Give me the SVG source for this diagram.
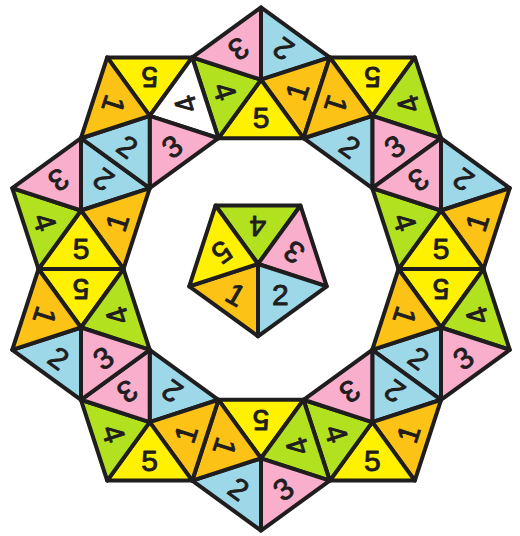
<svg xmlns="http://www.w3.org/2000/svg" width="520" height="536" viewBox="0 0 520 536">
<style>
polygon{stroke:#1f1d1e;stroke-width:4;stroke-linejoin:round}
.c1{fill:#fdc216}.c2{fill:#9dd8e8}.c3{fill:#f9aecb}.c4{fill:#b2e11f}.c5{fill:#fff100}.cw{fill:#ffffff}
text{font-family:"Liberation Sans",Arial,sans-serif;font-size:30px;fill:#1f1d1e;stroke:#1f1d1e;stroke-width:0.9;stroke-linejoin:round;text-anchor:middle;dominant-baseline:central}
</style>
<rect width="520" height="536" fill="#ffffff"/>

<g id="pent-top" transform="translate(261,79.7)">
<polygon class="c2" points="0,0 0,-72.3 68.76,-22.34"/>
<polygon class="c1" points="0,0 68.76,-22.34 42.5,58.49"/>
<polygon class="c5" points="0,0 42.5,58.49 -42.5,58.49"/>
<polygon class="c4" points="0,0 -42.5,58.49 -68.76,-22.34"/>
<polygon class="c3" points="0,0 -68.76,-22.34 0,-72.3"/>
<text transform="translate(22.3,-30.7) rotate(216)">2</text>
<text transform="translate(36.1,11.7) rotate(288)">1</text>
<text transform="translate(0,38)">5</text>
<text transform="translate(-36.1,11.7) rotate(72)">4</text>
<text transform="translate(-22.3,-30.7) rotate(144)">3</text>
</g>

<g id="pent-upper-right" transform="translate(372.3,115.9)">
<polygon class="c5" points="0,0 -42.5,-58.49 42.5,-58.49"/>
<polygon class="c4" points="0,0 42.5,-58.49 68.76,22.34"/>
<polygon class="c3" points="0,0 68.76,22.34 0,72.3"/>
<polygon class="c2" points="0,0 0,72.3 -68.76,22.34"/>
<polygon class="c1" points="0,0 -68.76,22.34 -42.5,-58.49"/>
<text transform="translate(0,-38) rotate(180)">5</text>
<text transform="translate(36.1,-11.7) rotate(252)">4</text>
<text transform="translate(22.3,30.7) rotate(324)">3</text>
<text transform="translate(-22.3,30.7) rotate(36)">2</text>
<text transform="translate(-36.1,-11.7) rotate(108)">1</text>
</g>

<g id="pent-right-upper" transform="translate(441,210.5)">
<polygon class="c2" points="0,0 0,-72.3 68.76,-22.34"/>
<polygon class="c1" points="0,0 68.76,-22.34 42.5,58.49"/>
<polygon class="c5" points="0,0 42.5,58.49 -42.5,58.49"/>
<polygon class="c4" points="0,0 -42.5,58.49 -68.76,-22.34"/>
<polygon class="c3" points="0,0 -68.76,-22.34 0,-72.3"/>
<text transform="translate(22.3,-30.7) rotate(216)">2</text>
<text transform="translate(36.1,11.7) rotate(288)">1</text>
<text transform="translate(0,38)">5</text>
<text transform="translate(-36.1,11.7) rotate(72)">4</text>
<text transform="translate(-22.3,-30.7) rotate(144)">3</text>
</g>

<g id="pent-right-lower" transform="translate(441,327.5)">
<polygon class="c5" points="0,0 -42.5,-58.49 42.5,-58.49"/>
<polygon class="c4" points="0,0 42.5,-58.49 68.76,22.34"/>
<polygon class="c3" points="0,0 68.76,22.34 0,72.3"/>
<polygon class="c2" points="0,0 0,72.3 -68.76,22.34"/>
<polygon class="c1" points="0,0 -68.76,22.34 -42.5,-58.49"/>
<text transform="translate(0,-38) rotate(180)">5</text>
<text transform="translate(36.1,-11.7) rotate(252)">4</text>
<text transform="translate(22.3,30.7) rotate(324)">3</text>
<text transform="translate(-22.3,30.7) rotate(36)">2</text>
<text transform="translate(-36.1,-11.7) rotate(108)">1</text>
</g>

<g id="pent-lower-right" transform="translate(372.3,422.1)">
<polygon class="c2" points="0,0 0,-72.3 68.76,-22.34"/>
<polygon class="c1" points="0,0 68.76,-22.34 42.5,58.49"/>
<polygon class="c5" points="0,0 42.5,58.49 -42.5,58.49"/>
<polygon class="c4" points="0,0 -42.5,58.49 -68.76,-22.34"/>
<polygon class="c3" points="0,0 -68.76,-22.34 0,-72.3"/>
<text transform="translate(22.3,-30.7) rotate(216)">2</text>
<text transform="translate(36.1,11.7) rotate(288)">1</text>
<text transform="translate(0,38)">5</text>
<text transform="translate(-36.1,11.7) rotate(72)">4</text>
<text transform="translate(-22.3,-30.7) rotate(144)">3</text>
</g>

<g id="pent-bottom" transform="translate(261,458.3)">
<polygon class="c5" points="0,0 -42.5,-58.49 42.5,-58.49"/>
<polygon class="c4" points="0,0 42.5,-58.49 68.76,22.34"/>
<polygon class="c3" points="0,0 68.76,22.34 0,72.3"/>
<polygon class="c2" points="0,0 0,72.3 -68.76,22.34"/>
<polygon class="c1" points="0,0 -68.76,22.34 -42.5,-58.49"/>
<text transform="translate(0,-38) rotate(180)">5</text>
<text transform="translate(36.1,-11.7) rotate(252)">4</text>
<text transform="translate(22.3,30.7) rotate(324)">3</text>
<text transform="translate(-22.3,30.7) rotate(36)">2</text>
<text transform="translate(-36.1,-11.7) rotate(108)">1</text>
</g>

<g id="pent-lower-left" transform="translate(149.7,422.1)">
<polygon class="c2" points="0,0 0,-72.3 68.76,-22.34"/>
<polygon class="c1" points="0,0 68.76,-22.34 42.5,58.49"/>
<polygon class="c5" points="0,0 42.5,58.49 -42.5,58.49"/>
<polygon class="c4" points="0,0 -42.5,58.49 -68.76,-22.34"/>
<polygon class="c3" points="0,0 -68.76,-22.34 0,-72.3"/>
<text transform="translate(22.3,-30.7) rotate(216)">2</text>
<text transform="translate(36.1,11.7) rotate(288)">1</text>
<text transform="translate(0,38)">5</text>
<text transform="translate(-36.1,11.7) rotate(72)">4</text>
<text transform="translate(-22.3,-30.7) rotate(144)">3</text>
</g>

<g id="pent-left-lower" transform="translate(81,327.5)">
<polygon class="c5" points="0,0 -42.5,-58.49 42.5,-58.49"/>
<polygon class="c4" points="0,0 42.5,-58.49 68.76,22.34"/>
<polygon class="c3" points="0,0 68.76,22.34 0,72.3"/>
<polygon class="c2" points="0,0 0,72.3 -68.76,22.34"/>
<polygon class="c1" points="0,0 -68.76,22.34 -42.5,-58.49"/>
<text transform="translate(0,-38) rotate(180)">5</text>
<text transform="translate(36.1,-11.7) rotate(252)">4</text>
<text transform="translate(22.3,30.7) rotate(324)">3</text>
<text transform="translate(-22.3,30.7) rotate(36)">2</text>
<text transform="translate(-36.1,-11.7) rotate(108)">1</text>
</g>

<g id="pent-left-upper" transform="translate(81,210.5)">
<polygon class="c2" points="0,0 0,-72.3 68.76,-22.34"/>
<polygon class="c1" points="0,0 68.76,-22.34 42.5,58.49"/>
<polygon class="c5" points="0,0 42.5,58.49 -42.5,58.49"/>
<polygon class="c4" points="0,0 -42.5,58.49 -68.76,-22.34"/>
<polygon class="c3" points="0,0 -68.76,-22.34 0,-72.3"/>
<text transform="translate(22.3,-30.7) rotate(216)">2</text>
<text transform="translate(36.1,11.7) rotate(288)">1</text>
<text transform="translate(0,38)">5</text>
<text transform="translate(-36.1,11.7) rotate(72)">4</text>
<text transform="translate(-22.3,-30.7) rotate(144)">3</text>
</g>

<g id="pent-upper-left" transform="translate(149.7,115.9)">
<polygon class="c5" points="0,0 -42.5,-58.49 42.5,-58.49"/>
<polygon class="cw" points="0,0 42.5,-58.49 68.76,22.34"/>
<polygon class="c3" points="0,0 68.76,22.34 0,72.3"/>
<polygon class="c2" points="0,0 0,72.3 -68.76,22.34"/>
<polygon class="c1" points="0,0 -68.76,22.34 -42.5,-58.49"/>
<text transform="translate(0,-38) rotate(180)">5</text>
<text transform="translate(36.1,-11.7) rotate(252)">4</text>
<text transform="translate(22.3,30.7) rotate(324)">3</text>
<text transform="translate(-22.3,30.7) rotate(36)">2</text>
<text transform="translate(-36.1,-11.7) rotate(108)">1</text>
</g>

<g id="pent-center" transform="translate(258,264)">
<polygon class="c4" points="0,0 -42.5,-58.49 42.5,-58.49"/>
<polygon class="c3" points="0,0 42.5,-58.49 68.76,22.34"/>
<polygon class="c2" points="0,0 68.76,22.34 0,72.3"/>
<polygon class="c1" points="0,0 0,72.3 -68.76,22.34"/>
<polygon class="c5" points="0,0 -68.76,22.34 -42.5,-58.49"/>
<text transform="translate(0,-38) rotate(180)">4</text>
<text transform="translate(36.1,-11.7) rotate(216)">3</text>
<text transform="translate(22.3,30.7)">2</text>
<text transform="translate(-22.3,30.7) rotate(30)">1</text>
<text transform="translate(-36.1,-11.7) rotate(144)">5</text>
</g>
</svg>
